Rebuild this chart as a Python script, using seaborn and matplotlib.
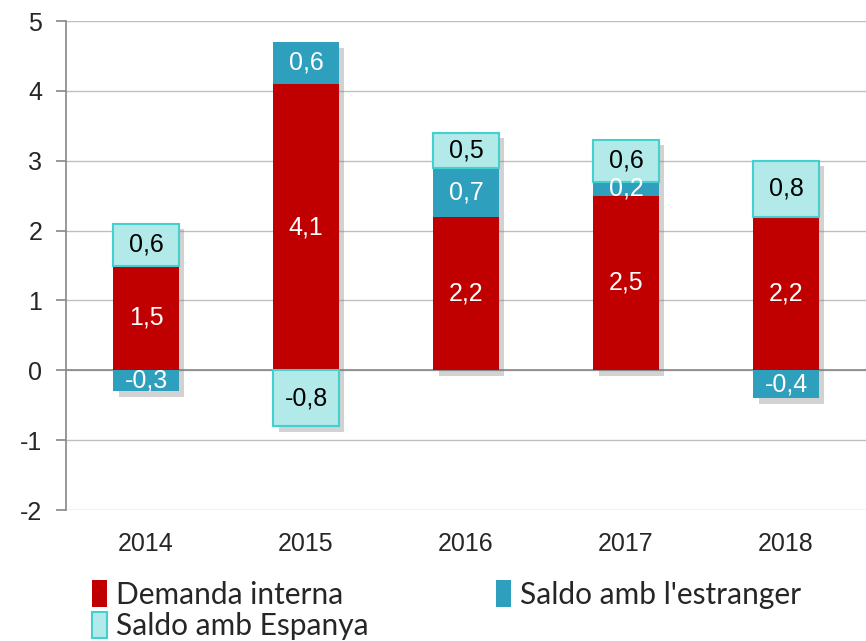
import matplotlib
matplotlib.use("Agg")
import numpy as np
import pandas as pd
import matplotlib.pyplot as plt
import matplotlib.patheffects as pe
from matplotlib.patches import Patch
import seaborn as sns

# Data
years = ["2014", "2015", "2016", "2017", "2018"]
demanda = [1.5, 4.1, 2.2, 2.5, 2.2]
estranger = [-0.3, 0.6, 0.7, 0.2, -0.4]
espanya = [0.6, -0.8, 0.5, 0.6, 0.8]

c_dem = "#C00000"
c_est = "#2E9FBD"
c_esp = "#B2EAEA"
c_esp_edge = "#45CFCF"

sns.set_theme(style="white")
plt.rcParams["font.family"] = ["Liberation Sans", "DejaVu Sans"]

fig = plt.figure(figsize=(8.66, 6.41), dpi=100)
ax = fig.add_axes([66 / 866, 1 - 510 / 641, 1 - 66 / 866, (510 - 21) / 641])

layers = [(demanda, c_dem, "none", "white"),
          (estranger, c_est, "none", "white"),
          (espanya, c_esp, c_esp_edge, "black")]
shadow = [pe.SimplePatchShadow(offset=(4, -4), shadow_rgbFace="#7f7f7f", alpha=0.35)]

# two passes: shadows first (behind everything), then the bars with labels
for shadow_pass in (True, False):
    pos_base = np.zeros(len(years))
    neg_base = np.zeros(len(years))
    for vals, color, edge, tcol in layers:
        v = np.array(vals)
        bottom = np.where(v >= 0, pos_base, neg_base)
        df = pd.DataFrame({"year": years, "val": v})
        sns.barplot(data=df, x="year", y="val", bottom=bottom, color=color,
                    width=0.41, edgecolor=edge, linewidth=1.5 if edge != "none" else 0,
                    saturation=1, ax=ax, zorder=2.5 if shadow_pass else 3)
        cont = ax.containers[-1]
        if shadow_pass:
            for bar in cont:
                bar.set_path_effects(shadow)
        else:
            labels = [f"{x:.1f}".replace(".", ",") for x in v]
            ax.bar_label(cont, labels=labels, label_type="center", color=tcol,
                         fontsize=18, zorder=5)
        pos_base = pos_base + np.where(v >= 0, v, 0)
        neg_base = neg_base + np.where(v < 0, v, 0)

ax.set_ylim(-2, 5)
ax.set_xlim(-0.5, 4.5)
ax.set_yticks(range(-2, 6))
ax.set_yticklabels([str(t) for t in range(-2, 6)])
ax.set_xlabel("")
ax.set_ylabel("")
ax.yaxis.grid(True, color="#BFBFBF", linewidth=1, zorder=0)
ax.set_axisbelow(True)
ax.axhline(0, color="#868686", linewidth=1.2, zorder=2)
for s in ["top", "right", "bottom"]:
    ax.spines[s].set_visible(False)
ax.spines["left"].set_color("#868686")
ax.spines["left"].set_linewidth(1.2)
ax.tick_params(axis="y", length=7, width=1.2, color="#868686", pad=10, labelsize=18, left=True)
ax.tick_params(axis="x", length=0, pad=16, labelsize=18)

handles = [Patch(facecolor=c_dem, edgecolor="none", label="Demanda interna"),
           Patch(facecolor=c_esp, edgecolor=c_esp_edge, linewidth=1.5, label="Saldo amb Espanya"),
           Patch(facecolor=c_est, edgecolor="none", label="Saldo amb l'estranger")]
fig.legend(handles=handles, loc="upper left", bbox_to_anchor=(80 / 866, 1 - 568 / 641),
           ncol=2, frameon=False, prop={"family": "Lato", "size": 21.5},
           handlelength=0.5, handleheight=1.0, handletextpad=0.3,
           columnspacing=4.27, labelspacing=0.1, borderaxespad=0)

fig.savefig("out.png", dpi=100)
